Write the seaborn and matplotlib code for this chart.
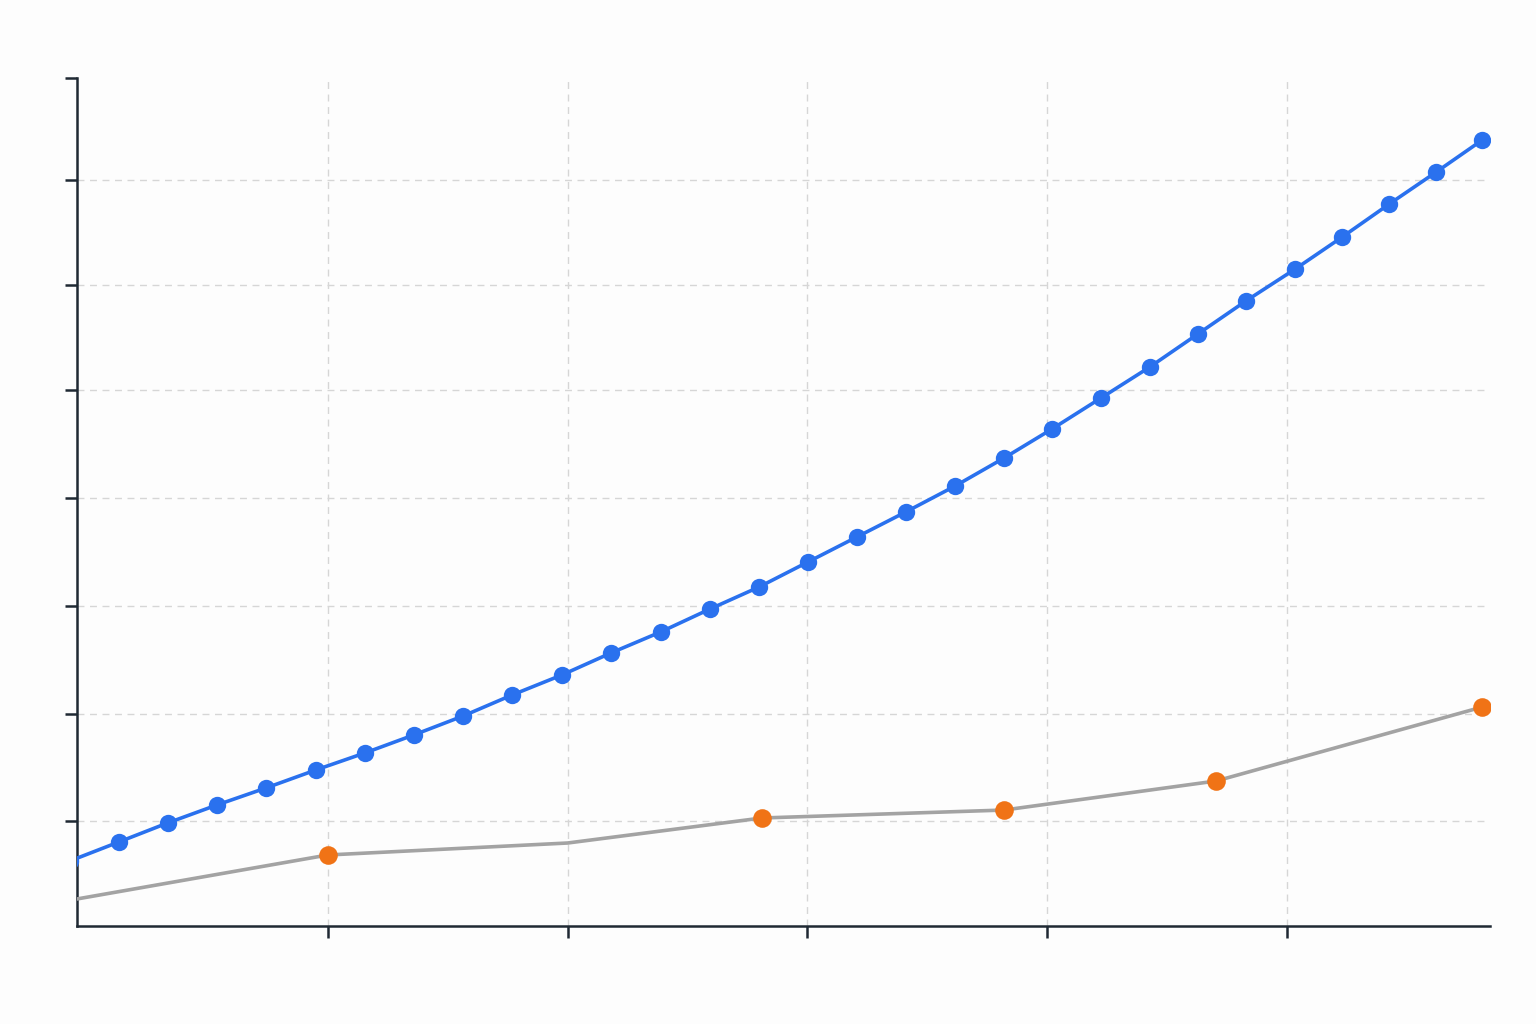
import matplotlib
matplotlib.use("Agg")
import matplotlib.pyplot as plt
import seaborn as sns
import pandas as pd

# blue series (yearly points, first one falls just outside the left edge)
blue_x = [1999.62, 2000.64, 2001.66, 2002.69, 2003.71, 2004.75, 2005.77, 2006.79,
          2007.82, 2008.84, 2009.88, 2010.90, 2011.94, 2012.97, 2013.99, 2015.01,
          2016.03, 2017.05, 2018.08, 2019.10, 2020.10, 2021.12, 2022.14, 2023.14,
          2024.14, 2025.17, 2026.15, 2027.13, 2028.11, 2029.07]
blue_y = [6.13, 7.92, 9.72, 11.42, 13.02, 14.72, 16.32, 18.02,
          19.81, 21.79, 23.68, 25.75, 27.74, 29.91, 31.98, 34.34,
          36.70, 39.06, 41.51, 44.15, 46.89, 49.81, 52.74, 55.85,
          58.96, 61.98, 65.00, 68.11, 71.13, 74.15]

# gray baseline series
gray_x = [1999.77, 2005.00, 2010.00, 2014.05, 2019.10, 2023.52, 2029.07]
gray_y = [2.55, 6.70, 7.83, 10.19, 10.94, 13.68, 20.66]

# orange highlighted points on the gray series
orange_x = [2005.00, 2014.05, 2019.10, 2023.52, 2029.07]
orange_y = [6.70, 10.19, 10.94, 13.68, 20.66]

x_ticks = [2005, 2010, 2015, 2020, 2025]
y_ticks = [9.9, 20.0, 30.2, 40.4, 50.6, 60.5, 70.4, 80]

blue_df = pd.DataFrame({"x": blue_x, "y": blue_y})
gray_df = pd.DataFrame({"x": gray_x, "y": gray_y})
orange_df = pd.DataFrame({"x": orange_x, "y": orange_y})

sns.set_style("white")
fig = plt.figure(figsize=(15.36, 10.24), dpi=100, facecolor="#fdfdfd")
ax = fig.add_axes([0.0501, 0.0957, 0.9199, 0.8281])
ax.set_facecolor("#fdfdfd")

blue = "#2a71ee"
sns.lineplot(data=gray_df, x="x", y="y", sort=False, color="#a3a3a3",
             linewidth=2.6, ax=ax, zorder=3)
sns.lineplot(data=blue_df, x="x", y="y", sort=False, color=blue, linewidth=2.6,
             marker="o", markersize=12.5, markeredgewidth=0, ax=ax, zorder=4)
sns.scatterplot(data=orange_df, x="x", y="y", color="#f07316", s=180,
                linewidth=0, ax=ax, zorder=5)

ax.set_xlim(1999.77, 2029.23)
ax.set_ylim(0, 80)
ax.set_xticks(x_ticks)
ax.set_yticks(y_ticks)
ax.set_xticklabels([])
ax.set_yticklabels([])
ax.set_xlabel("")
ax.set_ylabel("")

ax.grid(True, linestyle=(0, (5, 4)), color="#d6d6d6", linewidth=1.0)
ax.set_axisbelow(True)
# no grid line along the top edge
ax.yaxis.get_major_ticks()[-1].gridline.set_visible(False)

for side in ["top", "right"]:
    ax.spines[side].set_visible(False)
for side in ["left", "bottom"]:
    ax.spines[side].set_color("#1f2933")
    ax.spines[side].set_linewidth(1.8)
ax.tick_params(axis="both", direction="out", length=8.5, width=1.8,
               color="#1f2933", left=True, bottom=True)

fig.savefig("out.png", dpi=100, facecolor=fig.get_facecolor())
